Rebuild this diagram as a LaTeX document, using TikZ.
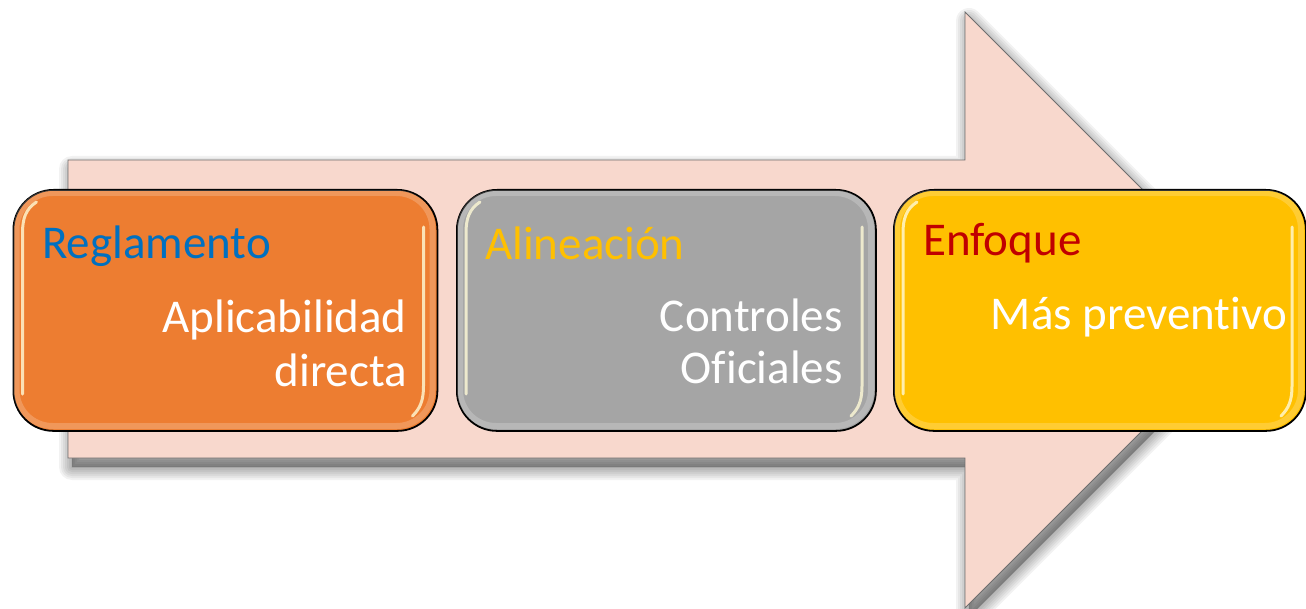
\documentclass[tikz,border=0pt]{standalone}
\usepackage{fontspec}
\setmainfont{Carlito}[Ligatures=NoCommon]
\definecolor{arrowfill}{RGB}{248,216,205}
\definecolor{arrowline}{RGB}{110,110,110}
\definecolor{orng}{RGB}{237,125,49}
\definecolor{gry}{RGB}{165,165,165}
\definecolor{ylw}{RGB}{255,192,0}
\definecolor{blu}{RGB}{0,112,192}
\definecolor{dred}{RGB}{192,0,0}
\definecolor{glossy}{RGB}{255,250,215}
\tikzset{
  card/.style={draw=black, line width=1.8pt, rounded corners=40pt, inner sep=0pt, anchor=north west},
  ttl/.style={anchor=base west, inner sep=0pt, font=\fontsize{47}{56}\selectfont},
  txt/.style={anchor=base east, inner sep=0pt, text=white, font=\fontsize{47}{56}\selectfont},
  shine/.style={draw=glossy, line width=3pt, line cap=round, opacity=0.8},
  rim/.style={draw=white, line width=6pt, opacity=0.2, rounded corners=36pt},
}
\newcommand{\boxgloss}[4]{%
  \path[rim] ({#1+4},{#2+4}) rectangle ({#3-4},{#4-4});
  \path[shine] ({#1+24},{#2+13}) .. controls ({#1+13},{#2+20}) and ({#1+10},{#2+30}) .. ({#1+10},{#2+44}) -- ({#1+10},{#4-36});
  \path[shine] ({#3-13},{#2+38}) -- ({#3-13},{#4-44}) .. controls ({#3-13},{#4-30}) and ({#3-16},{#4-22}) .. ({#3-24},{#4-14});
}
\begin{document}
\begin{tikzpicture}[x=1pt,y=-1pt]
\useasboundingbox (0,0) rectangle (1306,609);
% arrow shadow (soft)
\foreach \w in {26,22,18,14,10,6,2}{
  \path[fill=black, draw=black, opacity=0.05, line width=\w pt, line join=round, shift={(4,9)}]
    (68,160) -- (965,160) -- (965,12) -- (1263,310) -- (965,608) -- (965,458) -- (68,458) -- cycle;
}
% big arrow
\path[fill=arrowfill, draw=arrowline, line width=0.9pt]
  (68,160) -- (965,160) -- (965,12) -- (1263,310) -- (965,608) -- (965,458) -- (68,458) -- cycle;
% boxes
\node[card, fill=orng, minimum width=424pt, minimum height=241pt] (b1) at (12.5,189) {};
\node[card, fill=gry,  minimum width=419pt, minimum height=241pt] (b2) at (456,189) {};
\node[card, fill=ylw,  minimum width=412pt, minimum height=241pt] (b3) at (893,189) {};
\boxgloss{12.5}{189}{436.5}{430}
\boxgloss{456}{189}{875}{430}
\boxgloss{893}{189}{1305}{430}
% texts
\node[ttl, text=blu] (t1) at (42,259) {Reglamento};
\node[txt] (t1a) at (407,333) {Aplicabilidad};
\node[txt] (t1b) at (407,386) {directa};
\node[ttl, text=ylw] (t2) at (485,260) {Alineación};
\node[txt] (t2a) at (843,332) {Controles};
\node[txt] (t2b) at (843,384) {Oficiales};
\node[ttl, text=dred] (t3) at (923,256) {Enfoque};
\node[txt] (t3a) at (1287,330) {Más preventivo};
\end{tikzpicture}
\end{document}
